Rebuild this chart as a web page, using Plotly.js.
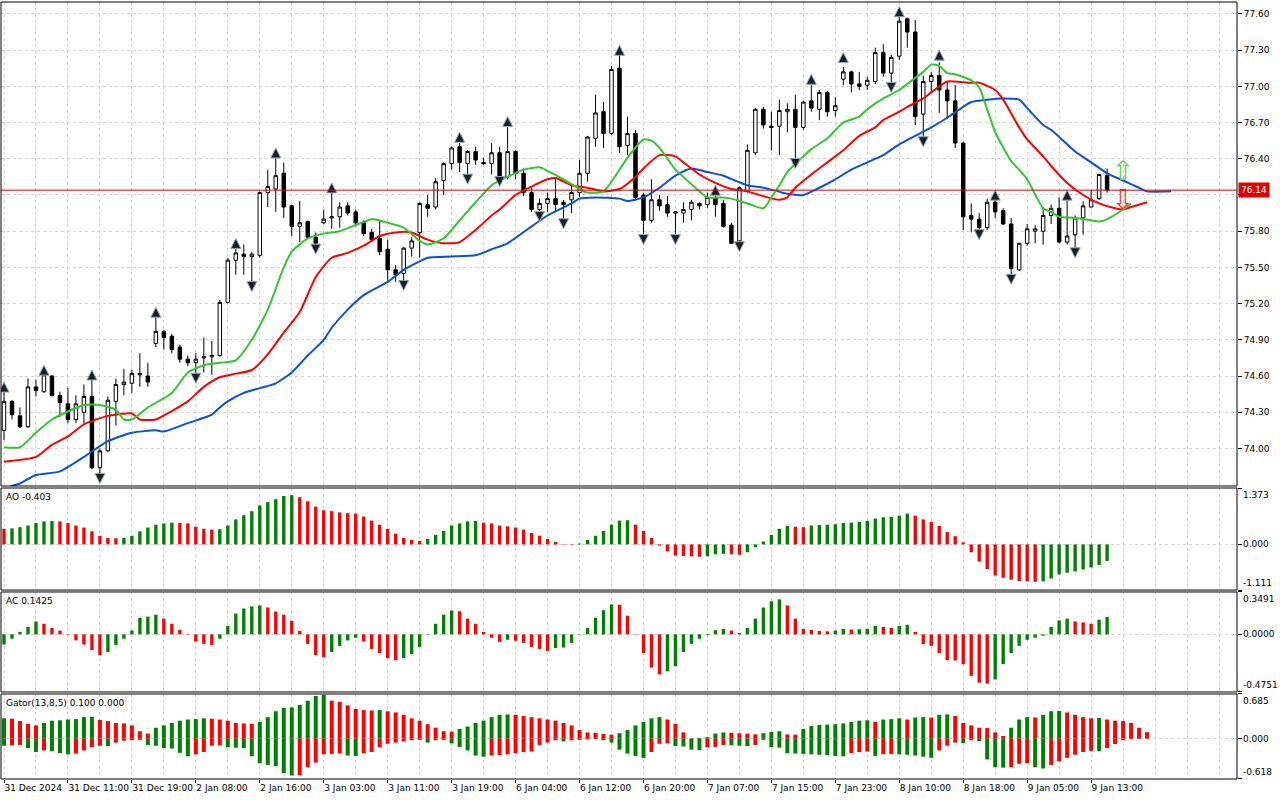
<!DOCTYPE html>
<html><head><meta charset="utf-8">
<script src="https://cdn.plot.ly/plotly-3.0.1.min.js"></script>
<style>html,body{margin:0;padding:0;background:#fff;}#chart{width:1280px;height:800px;}</style>
</head><body><div id="chart"></div>
<script>
// ---- time axis labels (every 8 hourly bars) ----
const tickLabels = ['31 Dec 2024','31 Dec 11:00','31 Dec 19:00','2 Jan 08:00','2 Jan 16:00','3 Jan 03:00','3 Jan 11:00','3 Jan 19:00','6 Jan 04:00','6 Jan 12:00','6 Jan 20:00','7 Jan 07:00','7 Jan 15:00','7 Jan 23:00','8 Jan 10:00','8 Jan 18:00','9 Jan 05:00','9 Jan 13:00'];
const priceTicks = [74.00,74.30,74.60,74.90,75.20,75.50,75.80,76.10,76.40,76.70,77.00,77.30,77.60];

// ---- OHLC (H1) ----
const open = [74.15,74.39,74.27,74.18,74.51,74.47,74.60,74.44,74.37,74.24,74.30,74.43,73.84,73.98,74.39,74.53,74.54,74.61,74.60,74.87,
74.97,74.93,74.84,74.74,74.71,74.75,74.76,74.77,75.21,75.56,75.61,75.59,75.60,76.12,76.15,76.28,76.01,75.84,75.88,75.75,
75.87,75.91,75.92,76.01,75.96,75.87,75.79,75.74,75.65,75.48,75.45,75.66,75.79,76.02,76.00,76.22,76.36,76.50,76.36,76.46,
76.37,76.36,76.45,76.25,76.46,76.28,76.12,75.98,76.03,76.07,76.04,76.06,76.12,76.28,76.57,76.79,76.61,77.15,76.51,76.61,
76.10,75.89,76.06,76.02,75.95,75.95,75.98,76.03,76.02,76.08,76.03,75.85,75.72,76.13,76.45,76.81,76.67,76.67,76.79,76.81,
76.66,76.88,76.81,76.95,76.80,77.06,77.12,77.02,77.01,77.04,77.28,77.11,77.25,77.56,77.45,76.77,77.04,77.09,76.97,76.88,
76.53,75.93,75.90,75.83,76.04,75.97,75.86,75.48,75.70,75.80,75.80,75.93,75.99,75.71,75.77,75.91,76.00,76.07,76.26];
const high = [74.47,74.40,74.34,74.58,74.57,74.63,74.61,74.47,74.50,74.44,74.53,74.57,74.00,74.43,74.58,74.66,74.65,74.79,74.71,75.10,
74.98,74.95,74.86,74.77,74.79,74.92,74.89,75.23,75.58,75.67,75.69,75.63,76.13,76.31,76.41,76.37,76.02,76.05,75.89,75.79,
75.98,76.12,76.04,76.04,75.98,75.89,75.82,75.89,75.73,75.52,75.67,75.75,76.04,76.10,76.24,76.37,76.50,76.53,76.47,76.50,
76.41,76.53,76.50,76.68,76.47,76.32,76.17,76.07,76.12,76.25,76.06,76.18,76.39,76.59,76.93,76.87,77.17,77.27,76.75,76.64,
76.12,76.23,76.10,76.09,75.96,76.04,76.06,76.04,76.12,76.13,76.06,75.87,76.17,76.52,76.82,76.83,76.79,76.89,76.86,76.93,
76.88,77.01,76.97,76.96,76.91,77.16,77.13,77.12,77.08,77.32,77.35,77.26,77.59,77.57,77.55,77.09,77.12,77.20,77.04,77.01,
76.54,76.03,75.95,76.07,76.08,75.99,75.91,75.70,75.86,75.85,76.00,76.02,76.08,76.09,75.93,76.05,76.14,76.27,76.32];
const low = [74.07,74.24,74.17,74.17,74.43,74.46,74.43,74.26,74.21,74.21,74.21,73.83,73.75,73.97,74.19,74.44,74.46,74.51,74.51,74.84,
74.82,74.79,74.71,74.68,74.61,74.63,74.61,74.76,75.20,75.44,75.44,75.34,75.58,76.00,75.96,75.91,75.76,75.71,75.74,75.69,
75.86,75.82,75.83,75.93,75.84,75.76,75.71,75.60,75.39,75.38,75.37,75.59,75.58,75.92,75.98,76.10,76.31,76.29,76.27,76.35,
76.35,76.27,76.22,76.23,76.23,76.09,75.96,75.92,75.96,75.96,75.87,75.95,76.08,76.21,76.50,76.49,76.60,76.45,76.43,76.06,
75.74,75.87,75.97,75.92,75.73,75.87,75.89,75.98,75.99,75.92,75.83,75.70,75.69,76.12,76.43,76.65,76.47,76.43,76.62,76.39,
76.64,76.79,76.72,76.75,76.75,77.01,76.95,76.97,76.97,77.02,77.08,77.01,77.22,77.32,76.68,76.57,76.95,76.78,76.73,76.49,
75.81,75.79,75.77,75.81,75.91,75.85,75.42,75.47,75.68,75.70,75.69,75.86,75.70,75.69,75.62,75.77,76.00,76.06,76.12];
const close = [74.39,74.28,74.18,74.51,74.48,74.61,74.44,74.38,74.24,74.37,74.43,73.84,73.98,74.40,74.53,74.55,74.62,74.62,74.55,74.97,
74.92,74.82,74.74,74.71,74.74,74.76,74.77,75.21,75.56,75.62,75.59,75.61,76.12,76.17,76.26,76.00,75.84,75.87,75.75,75.70,
75.90,75.92,76.00,75.95,75.87,75.78,75.73,75.63,75.48,75.44,75.66,75.72,76.03,75.99,76.21,76.36,76.49,76.37,76.46,76.39,
76.36,76.45,76.23,76.46,76.28,76.12,75.98,76.03,76.07,76.02,76.02,76.12,76.28,76.58,76.78,76.61,77.14,76.50,76.61,76.08,
75.89,76.06,76.01,75.95,75.96,75.98,76.04,76.01,76.08,76.02,75.84,75.70,76.16,76.47,76.81,76.68,76.66,76.80,76.81,76.66,
76.87,76.82,76.95,76.79,76.84,77.12,77.02,77.00,77.05,77.28,77.11,77.24,77.54,77.45,76.75,77.04,77.09,76.97,76.88,76.53,
75.92,75.90,75.83,76.04,75.96,75.86,75.49,75.70,75.82,75.82,75.93,75.99,75.71,75.76,75.91,76.01,76.06,76.27,76.14];

// ---- Alligator (sampled readings) ----
const jawIdx = [0,1,2,4,7,10,13,16,19,20,23,26,27,28,30,32,34,36,38,40,41,43,45,48,50,52,53,56,59,61,63,66,68,71,72,74,77,78,80,82,84,86,88,90,93,95,98,100,102,104,106,108,110,112,114,116,118,120,121,123,125,127,128,130,131,134,136,138,140,142,143,146];
const jaw = [73.65,73.69,73.71,73.78,73.81,73.93,74.06,74.13,74.15,74.14,74.21,74.28,74.34,74.39,74.46,74.50,74.54,74.63,74.77,74.90,75.00,75.15,75.27,75.38,75.48,75.55,75.58,75.59,75.60,75.65,75.70,75.84,75.93,76.03,76.07,76.08,76.07,76.05,76.08,76.16,76.26,76.32,76.29,76.26,76.18,76.16,76.11,76.10,76.16,76.23,76.31,76.37,76.43,76.52,76.59,76.66,76.74,76.83,76.87,76.89,76.90,76.89,76.82,76.68,76.64,76.46,76.37,76.28,76.22,76.16,76.13,76.13];
const teethIdx = [0,4,6,8,10,13,16,17,19,21,23,25,27,29,31,33,35,37,39,41,43,45,47,49,51,53,55,57,59,61,62,64,66,68,69,71,73,75,77,79,80,82,84,85,87,89,91,93,95,97,98,99,101,103,105,107,109,110,112,113,115,116,118,119,121,122,124,125,127,128,130,131,133,135,137,139,140,141,143];
const teeth = [73.89,73.93,74.03,74.10,74.20,74.27,74.29,74.24,74.24,74.31,74.39,74.51,74.59,74.62,74.65,74.78,74.96,75.13,75.42,75.58,75.62,75.68,75.76,75.79,75.79,75.73,75.70,75.71,75.81,75.93,75.98,76.10,76.17,76.23,76.24,76.18,76.16,76.13,76.15,76.25,76.32,76.43,76.42,76.37,76.27,76.20,76.15,76.13,76.09,76.06,76.08,76.16,76.27,76.37,76.47,76.59,76.66,76.72,76.79,76.83,76.90,76.95,77.04,77.04,77.03,77.03,76.97,76.89,76.66,76.56,76.42,76.34,76.20,76.10,76.03,75.99,75.98,76.00,76.04];
const lipsIdx = [0,2,4,6,10,12,14,15,16,18,21,23,25,27,29,31,33,35,36,38,40,42,44,46,48,50,52,53,55,57,59,61,63,65,67,68,70,72,73,75,77,78,80,81,82,84,85,87,88,90,91,93,95,96,97,98,100,101,103,105,107,108,110,112,113,115,116,117,118,119,121,122,123,124,126,127,128,130,131,132,134,136,137,138,140,141];
const lips = [74.01,74.01,74.13,74.24,74.36,74.36,74.32,74.24,74.24,74.34,74.46,74.63,74.69,74.71,74.73,74.90,75.15,75.50,75.63,75.74,75.78,75.80,75.85,75.90,75.87,75.83,75.72,75.69,75.74,75.89,76.04,76.18,76.25,76.31,76.33,76.30,76.23,76.15,76.12,76.13,76.31,76.41,76.56,76.55,76.49,76.31,76.25,76.13,76.08,76.08,76.07,76.03,75.99,76.08,76.18,76.29,76.42,76.48,76.57,76.70,76.75,76.81,76.90,76.97,77.02,77.12,77.18,77.17,77.11,77.10,77.05,76.99,76.81,76.62,76.38,76.31,76.23,75.99,75.96,75.92,75.91,75.89,75.88,75.90,75.98,76.03];

// ---- Fractals ----
const fracUpIdx = [0,5,11,19,29,34,41,57,63,77,89,101,105,112,117,124,133];
const fracUp = [74.55,74.69,74.65,75.17,75.74,76.49,76.20,76.62,76.75,77.34,76.18,77.10,77.28,77.66,77.30,76.14,76.14];
const fracDnIdx = [12,24,31,39,50,58,62,67,70,80,84,92,99,111,115,122,126,134];
const fracDn = [73.71,74.54,75.30,75.61,75.31,76.19,76.17,75.88,75.82,75.69,75.69,75.63,76.32,76.95,76.50,75.73,75.36,75.58];

// ---- signal arrows ----
const signalIdx = [140,140];
const signalPrice = [76.28,76.04];
const signalDir = ['up','down'];

// ---- Awesome Oscillator ----
const aoPrev = 0.40;
const ao = [0.38,0.39,0.42,0.46,0.52,0.56,0.57,0.56,0.52,0.46,0.41,0.32,0.21,0.16,0.15,0.16,0.21,0.32,0.41,0.48,
0.51,0.53,0.52,0.51,0.43,0.38,0.36,0.37,0.46,0.61,0.71,0.81,0.95,1.03,1.10,1.18,1.20,1.15,1.05,0.92,
0.83,0.81,0.78,0.76,0.75,0.68,0.58,0.48,0.38,0.26,0.16,0.11,0.08,0.13,0.23,0.33,0.46,0.51,0.56,0.57,
0.53,0.51,0.46,0.44,0.41,0.36,0.28,0.21,0.13,0.06,0.01,-0.01,0.02,0.11,0.21,0.33,0.48,0.58,0.59,0.48,
0.33,0.16,-0.03,-0.17,-0.27,-0.28,-0.29,-0.30,-0.29,-0.24,-0.23,-0.24,-0.25,-0.19,-0.07,0.07,0.23,0.38,0.45,0.43,
0.42,0.46,0.47,0.48,0.49,0.52,0.53,0.55,0.57,0.63,0.66,0.67,0.70,0.75,0.70,0.61,0.55,0.45,0.30,0.20,
0.05,-0.19,-0.42,-0.60,-0.76,-0.81,-0.86,-0.89,-0.90,-0.91,-0.90,-0.83,-0.73,-0.69,-0.66,-0.61,-0.56,-0.50,-0.403];

// ---- Accelerator Oscillator ----
const acPrev = -0.10;
const ac = [-0.084,-0.036,0.020,0.062,0.106,0.087,0.053,0.031,-0.003,-0.050,
-0.084,-0.129,-0.171,-0.146,-0.087,-0.036,0.031,0.137,0.146,0.162,
0.129,0.087,0.036,-0.003,-0.059,-0.078,-0.087,-0.036,0.070,0.171,
0.213,0.230,0.238,0.221,0.188,0.162,0.112,0.028,-0.078,-0.171,
-0.188,-0.146,-0.095,-0.050,-0.028,-0.059,-0.120,-0.154,-0.196,-0.213,
-0.196,-0.162,-0.104,0.003,0.087,0.162,0.196,0.190,0.129,0.087,
0.020,-0.028,-0.062,-0.045,-0.053,-0.070,-0.104,-0.120,-0.137,-0.112,
-0.109,-0.070,0.003,0.053,0.137,0.199,0.246,0.244,0.154,-0.003,
-0.154,-0.274,-0.330,-0.305,-0.263,-0.146,-0.078,-0.036,-0.006,0.034,
0.045,0.031,0.011,0.053,0.129,0.221,0.272,0.288,0.238,0.129,
0.045,0.036,0.028,0.025,0.031,0.045,0.039,0.042,0.045,0.070,
0.062,0.053,0.070,0.078,0.020,-0.081,-0.095,-0.154,-0.213,-0.216,
-0.246,-0.342,-0.398,-0.406,-0.372,-0.246,-0.154,-0.095,-0.045,-0.028,
-0.011,0.062,0.115,0.129,0.106,0.098,0.087,0.120,0.1425];

// ---- Gator Oscillator ----
const gatorUpPrev = 0.30, gatorLoPrev = -0.10;
const gatorUp = [0.312,0.306,0.270,0.228,0.204,0.240,0.276,0.282,0.294,0.300,
0.330,0.336,0.288,0.270,0.240,0.234,0.204,0.114,0.078,0.168,
0.204,0.240,0.276,0.294,0.300,0.312,0.306,0.294,0.276,0.240,
0.234,0.228,0.258,0.330,0.420,0.474,0.480,0.516,0.582,0.654,
0.672,0.582,0.564,0.510,0.456,0.438,0.432,0.438,0.420,0.402,
0.366,0.312,0.276,0.222,0.168,0.114,0.108,0.150,0.186,0.240,
0.276,0.330,0.366,0.372,0.366,0.348,0.330,0.312,0.294,0.276,
0.240,0.204,0.132,0.096,0.090,0.072,0.060,0.084,0.132,0.204,
0.258,0.312,0.330,0.294,0.228,0.096,0.006,0.012,0.024,0.078,
0.096,0.090,0.084,0.078,0.066,0.084,0.102,0.114,0.066,0.060,
0.150,0.192,0.210,0.216,0.222,0.234,0.258,0.276,0.282,0.258,
0.294,0.300,0.312,0.294,0.324,0.330,0.324,0.366,0.372,0.348,
0.240,0.204,0.168,0.162,0.096,0.042,0.168,0.294,0.330,0.324,
0.366,0.420,0.426,0.402,0.366,0.330,0.312,0.318,0.294,0.276,
0.270,0.240,0.168,0.100];
const gatorLo = [-0.108,-0.102,-0.096,-0.144,-0.204,-0.180,-0.192,-0.222,-0.240,-0.228,
-0.180,-0.132,-0.108,-0.114,-0.060,-0.030,-0.024,-0.018,-0.096,-0.108,
-0.144,-0.150,-0.216,-0.270,-0.240,-0.204,-0.108,-0.102,-0.132,-0.138,
-0.144,-0.270,-0.378,-0.402,-0.420,-0.528,-0.564,-0.558,-0.438,-0.366,
-0.240,-0.234,-0.228,-0.258,-0.264,-0.222,-0.204,-0.132,-0.078,-0.060,
-0.042,-0.024,-0.018,-0.060,-0.024,-0.018,-0.072,-0.126,-0.180,-0.258,
-0.276,-0.258,-0.252,-0.240,-0.222,-0.204,-0.198,-0.096,-0.060,-0.024,
-0.042,-0.024,-0.018,-0.012,-0.006,-0.024,-0.060,-0.168,-0.228,-0.264,
-0.294,-0.204,-0.078,-0.072,-0.114,-0.120,-0.168,-0.174,-0.132,-0.126,
-0.096,-0.102,-0.108,-0.114,-0.096,-0.018,-0.132,-0.138,-0.222,-0.228,
-0.234,-0.240,-0.246,-0.252,-0.264,-0.270,-0.222,-0.204,-0.198,-0.264,
-0.240,-0.234,-0.240,-0.246,-0.258,-0.276,-0.294,-0.180,-0.108,-0.060,
-0.066,-0.024,-0.036,-0.318,-0.438,-0.444,-0.438,-0.384,-0.378,-0.438,
-0.456,-0.402,-0.348,-0.294,-0.246,-0.204,-0.186,-0.192,-0.144,-0.084,
-0.024,-0.006,0,0];

// ---------- build ----------
const GREEN = '#008000', RED = '#ff0000';
const barIdx = open.map((_, i) => i);
const gatorIdx = gatorUp.map((_, i) => i);
const upDownColors = (arr, prev, absMode) => arr.map((v, i) => {
  const p = i === 0 ? prev : arr[i - 1];
  return (absMode ? Math.abs(v) > Math.abs(p) : v > p) ? GREEN : RED;
});
const lastClose = close[close.length - 1];
const FONT = 'DejaVu Sans, Tahoma, sans-serif';
const GRID = '#d4d4d4';

const traces = [
  {type:'candlestick', x:barIdx, open:open, high:high, low:low, close:close, xaxis:'x', yaxis:'y',
   increasing:{line:{color:'#000', width:1}, fillcolor:'#ffffff'},
   decreasing:{line:{color:'#000', width:1}, fillcolor:'#000000'},
   whiskerwidth:0, hoverinfo:'skip'},
  {type:'scatter', mode:'lines', x:jawIdx, y:jaw, line:{color:'#0a50d8', width:2, shape:'spline', smoothing:0.6}, xaxis:'x', yaxis:'y'},
  {type:'scatter', mode:'lines', x:teethIdx, y:teeth, line:{color:'#ff0000', width:2, shape:'spline', smoothing:0.6}, xaxis:'x', yaxis:'y'},
  {type:'scatter', mode:'lines', x:lipsIdx, y:lips, line:{color:'#33c633', width:2, shape:'spline', smoothing:0.6}, xaxis:'x', yaxis:'y'},
  {type:'scatter', mode:'markers', x:fracUpIdx, y:fracUp, xaxis:'x', yaxis:'y',
   marker:{symbol:'arrow-up', size:10, color:'#1e1e1e', line:{color:'#8aa6c8', width:1}}},
  {type:'scatter', mode:'markers', x:fracDnIdx, y:fracDn, xaxis:'x', yaxis:'y',
   marker:{symbol:'arrow-down', size:10, color:'#1e1e1e', line:{color:'#8aa6c8', width:1}}},
  {type:'scatter', mode:'text', x:signalIdx, y:signalPrice, xaxis:'x', yaxis:'y',
   text:signalDir.map(d => d === 'up' ? '\u21E7' : '\u21E9'),
   textfont:{family:'DejaVu Sans', size:27, color:signalDir.map(d => d === 'up' ? '#55d855' : '#ff3a3a')}},
  {type:'bar', x:barIdx, y:ao, width:0.42, marker:{color:upDownColors(ao, aoPrev, false), line:{width:0}}, xaxis:'x', yaxis:'y2'},
  {type:'bar', x:barIdx, y:ac, width:0.42, marker:{color:upDownColors(ac, acPrev, false), line:{width:0}}, xaxis:'x', yaxis:'y3'},
  {type:'bar', x:gatorIdx, y:gatorUp, width:0.5, marker:{color:upDownColors(gatorUp, gatorUpPrev, true), line:{width:0}}, xaxis:'x', yaxis:'y4'},
  {type:'bar', x:gatorIdx, y:gatorLo, width:0.5, marker:{color:upDownColors(gatorLo, gatorLoPrev, true), line:{width:0}}, xaxis:'x', yaxis:'y4'}
];

const tickVals = tickLabels.map((_, k) => k * 8);
const subAxis = (dom, lo, hi) => ({
  domain:dom, range:[lo, hi], side:'right', anchor:'x', tickmode:'array', tickvals:[lo, 0, hi],
  showticklabels:false, ticks:'outside', ticklen:4, tickcolor:'#000', showgrid:true, gridcolor:GRID,
  griddash:'3px,3px', zeroline:false, fixedrange:true
});
const lab = (txt, yref, y, ya) => ({xref:'paper', x:1, xanchor:'left', xshift:4, yref:yref, y:y, yanchor:ya,
  text:txt, showarrow:false, font:{family:FONT, size:9, color:'#000'}});
const title = (txt, yref) => ({xref:'paper', x:0, xanchor:'left', xshift:3, yref:yref, y:1, yanchor:'top', yshift:-2,
  text:txt, showarrow:false, font:{family:FONT, size:9, color:'#000'}});
const frame = (yref) => ({type:'rect', xref:'paper', yref:yref, x0:0, x1:1, y0:0, y1:1, line:{color:'#000', width:1}, layer:'above'});
// the current-price box covers the nearest price label, as in the terminal
const priceText = priceTicks.map(v => Math.abs(v - lastClose) < 0.06 ? '' : v.toFixed(2));

const layout = {
  width:1280, height:800, margin:{l:1, r:43, t:2, b:21}, paper_bgcolor:'#fff', plot_bgcolor:'#fff',
  showlegend:false, barmode:'overlay', boxgap:0.38, font:{family:FONT, size:9, color:'#000'},
  xaxis:{domain:[0,1], anchor:'y4', range:[-0.375, 154.25], tickmode:'array', tickvals:tickVals, ticktext:tickLabels,
    tickangle:0, ticks:'outside', ticklen:3, tickcolor:'#000', ticklabelposition:'outside right', showgrid:true, gridcolor:GRID,
    griddash:'3px,3px', zeroline:false, showline:false, rangeslider:{visible:false}, fixedrange:true, automargin:false,
    minor:{tickmode:'linear', tick0:0, dtick:4, showgrid:true, gridcolor:GRID, griddash:'3px,3px', ticks:''}},
  yaxis:{domain:[0.3771, 1], range:[73.689, 77.699], side:'right', anchor:'x', tickmode:'array', tickvals:priceTicks,
    ticktext:priceText, ticks:'outside', ticklen:4, tickcolor:'#000', showgrid:true,
    gridcolor:GRID, griddash:'3px,3px', zeroline:false, fixedrange:true, automargin:false},
  yaxis2:subAxis([0.2432, 0.3745], -1.111, 1.373),
  yaxis3:subAxis([0.1120, 0.2407], -0.4751, 0.3491),
  yaxis4:subAxis([0, 0.1094], -0.618, 0.685),
  shapes:[
    {type:'line', xref:'paper', x0:0, x1:1, yref:'y', y0:lastClose, y1:lastClose, line:{color:'#e00000', width:1}},
    frame('y domain'), frame('y2 domain'), frame('y3 domain'), frame('y4 domain')
  ],
  annotations:[
    {xref:'paper', x:1, xanchor:'left', xshift:1, yref:'y', y:lastClose, yanchor:'middle', text:lastClose.toFixed(2),
     showarrow:false, bgcolor:'#e00000', borderpad:2, font:{family:FONT, size:9, color:'#fff'}},
    lab('1.373','y2',1.373,'top'), lab('0.000','y2',0,'middle'), lab('-1.111','y2',-1.111,'bottom'),
    lab('0.3491','y3',0.3491,'top'), lab('0.0000','y3',0,'middle'), lab('-0.4751','y3',-0.4751,'bottom'),
    lab('0.685','y4',0.685,'top'), lab('0.000','y4',0,'middle'), lab('-0.618','y4',-0.618,'bottom'),
    title('AO ' + ao[ao.length-1].toFixed(3), 'y2 domain'),
    title('AC ' + ac[ac.length-1].toFixed(4), 'y3 domain'),
    title('Gator(13,8,5) ' + gatorUp[gatorUp.length-1].toFixed(3) + ' ' + Math.abs(gatorLo[gatorLo.length-1]).toFixed(3), 'y4 domain')
  ]
};
Plotly.newPlot('chart', traces, layout, {staticPlot:true, displayModeBar:false});
</script></body></html>
